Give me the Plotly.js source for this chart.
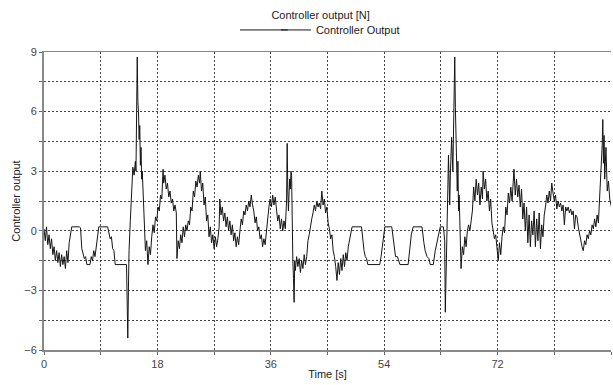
<!DOCTYPE html>
<html><head><meta charset="utf-8">
<script src="https://cdn.plot.ly/plotly-3.0.1.min.js"></script>
<style>html,body{margin:0;padding:0;background:#fff}#chart{width:613px;height:385px}</style>
</head><body><div id="chart"></div>
<script>
var chartTitle = "Controller output [N]";
var seriesName = "Controller Output";
var xTitle = "Time [s]";
var yTitle = "Controller output";

var time = [
0,0.2,0.4,0.6,0.8,1.0,1.2,1.4,1.6,1.8,2.0,2.2,2.4,2.6,2.8,3.0,3.2,3.4,3.6,3.8,4.0,4.2,4.4,5.6,5.8,
6.0,6.2,6.4,6.6,6.8,7.3,7.5,7.7,7.9,8.1,8.3,8.5,8.7,10.1,10.3,10.5,10.7,10.9,11.1,11.3,13.1,13.3,13.4,13.5,13.7,13.9,
14.1,14.3,14.5,14.6,14.8,14.9,15.0,15.1,15.2,15.3,15.4,15.5,15.6,15.7,15.9,16.0,16.1,16.3,16.5,16.7,16.9,17.1,17.3,17.5,17.7,17.9,
18.1,18.3,18.5,18.7,18.9,19.0,19.2,19.4,19.6,19.8,20.0,20.2,20.4,20.6,20.8,21.0,21.1,21.3,21.5,21.7,21.9,22.1,22.3,22.5,
22.7,22.9,23.1,23.3,23.5,23.7,23.9,24.1,24.3,24.5,24.7,24.8,25.0,25.2,25.4,25.6,25.8,26.0,26.2,26.4,26.6,26.8,27.0,27.2,27.4,27.6,27.8,27.9,
28.1,28.3,28.5,28.7,28.9,29.1,29.3,29.5,29.7,29.9,30.1,30.3,30.5,30.7,30.9,31.1,31.3,31.5,31.7,31.9,32.1,32.3,32.5,32.7,32.9,
33.1,33.3,33.5,33.7,33.9,34.1,34.3,34.5,34.7,34.9,35.1,35.3,35.5,35.7,35.9,36.1,36.3,36.5,36.7,36.9,37.1,37.3,37.5,37.7,37.9,
38.1,38.3,38.5,38.6,38.7,38.8,38.9,39.0,39.1,39.2,39.3,39.4,39.5,39.6,39.7,39.8,39.9,40.1,40.3,40.5,40.7,40.9,41.1,41.3,41.5,41.7,41.9,
42.1,42.3,42.5,42.7,42.9,43.1,43.3,43.5,43.7,43.9,44.1,44.3,44.5,44.7,44.9,45.1,45.3,45.5,45.7,45.9,46.1,46.3,46.5,46.7,46.9,
47.1,47.3,47.5,47.7,47.9,48.1,48.3,48.5,48.7,48.9,50.4,50.6,50.8,51.0,51.2,51.4,53.3,53.5,53.7,53.9,54.1,55.2,55.4,55.6,55.8,56.1,56.5,
57.8,58.0,58.3,58.6,60.0,60.3,60.5,60.8,61.1,61.3,61.8,62.1,62.4,62.7,62.9,63.4,63.6,63.7,63.8,63.9,64.1,64.2,64.3,64.4,64.5,64.7,64.9,
65.0,65.2,65.3,65.4,65.5,65.6,65.7,65.8,65.9,66.0,66.2,66.4,66.6,66.8,67.0,67.2,67.4,67.6,67.8,68.0,68.2,68.4,68.6,68.8,
69.0,69.2,69.4,69.6,69.7,69.9,70.1,70.3,70.5,70.7,70.9,71.1,71.3,71.5,71.7,71.9,72.1,72.3,72.5,72.7,72.9,
73.1,73.3,73.5,73.7,73.9,74.1,74.3,74.5,74.6,74.8,75.0,75.2,75.4,75.6,75.8,76.0,76.2,76.4,76.6,76.8,77.0,77.2,77.4,77.6,77.8,
78.0,78.2,78.4,78.6,78.8,79.0,79.2,79.4,79.6,79.8,80.0,80.2,80.4,80.6,80.8,81.0,81.2,81.4,81.6,81.8,82.0,82.2,82.4,82.6,82.8,
83.0,83.2,83.4,83.6,83.8,84.0,84.2,84.4,84.6,84.8,85.0,85.2,85.4,85.6,85.8,86.0,86.2,86.4,86.6,86.8,87.0,87.2,87.4,87.6,87.8,
88.0,88.2,88.4,88.6,88.7,88.8,88.9,89.0,89.2,89.4,89.6,89.8,90.0,90.2
];
var output = [
0.1,-0.5,0.2,-0.7,-0.2,-0.9,-0.4,-1.2,-0.8,-1.5,-1.0,-1.6,-1.1,-1.8,-1.2,-1.7,-1.3,-1.9,-1.0,-1.6,-0.6,-0.2,0.2,0.2,0.15,
-0.9,-1.1,-1.4,-1.3,-1.7,-1.7,-1.3,-1.5,-1.0,-1.3,-0.7,-0.3,0.2,0.2,-0.2,-0.4,-0.3,-0.9,-1.0,-1.7,-1.7,-5.4,-3.0,-1.0,0.5,2.0,
3.2,2.8,3.5,3.0,8.75,6.5,6.0,4.6,5.3,3.3,4.2,2.6,3.0,2.2,0.2,-0.4,-1.0,-0.5,-1.7,-0.8,-1.2,-0.3,0.3,-0.1,0.7,0.5,
1.2,1.0,1.8,1.6,3.1,2.4,2.8,2.1,2.4,1.7,2.0,1.4,1.6,1.0,1.3,0.9,-1.4,-0.5,-0.9,-0.2,-0.6,0.2,-0.3,0.3,
0.0,0.5,0.3,1.2,1.0,2.0,1.7,2.5,2.2,2.8,2.4,3.0,2.0,2.4,1.3,1.7,0.5,0.8,-0.3,0.2,-0.6,-0.2,-0.9,-0.3,-0.8,-0.4,0.2,1.6,
0.8,1.2,0.5,0.9,0.2,0.7,0.0,0.5,-0.2,0.3,-0.5,-0.1,-0.8,-0.3,-0.7,0.0,0.6,0.3,1.0,0.8,1.3,1.0,1.5,1.2,1.8,
1.3,1.0,0.4,0.7,0.0,0.2,-0.4,-0.2,-0.8,-0.4,-0.7,0.0,0.6,1.2,1.6,1.2,1.8,1.3,1.7,1.0,0.5,0.8,0.1,0.6,0.0,
0.5,0.1,1.5,4.4,2.0,1.0,1.9,2.6,2.1,3.0,2.8,-0.8,-1.5,-2.4,-3.6,-1.5,-2.0,-1.3,-1.8,-1.4,-2.1,-1.5,-1.9,-1.2,-1.7,-1.3,-0.5,
-0.2,0.3,0.6,0.9,1.3,1.0,1.5,1.2,1.4,1.1,2.0,1.3,1.6,0.9,1.2,0.4,0.1,-0.4,-0.2,-1.0,-1.3,-1.8,-2.5,-1.6,-2.2,
-1.4,-2.0,-1.2,-1.8,-1.1,-1.5,-0.8,-0.4,-0.1,0.2,0.2,-0.6,-1.0,-1.3,-1.4,-1.7,-1.7,-1.3,-0.8,-0.1,0.2,0.2,-0.3,-1.0,-1.3,-1.3,-1.7,
-1.7,-1.1,-0.2,0.2,0.2,-0.6,-1.0,-1.3,-1.4,-1.7,-1.7,-1.0,-0.5,-0.1,0.2,0.2,-0.5,-4.1,-2.0,0.0,2.1,3.8,2.5,1.3,2.8,4.7,3.0,
5.5,8.75,6.2,4.6,4.9,2.0,3.5,1.0,1.8,0.2,-1.9,-0.8,-1.2,-0.3,-0.8,0.0,0.3,0.0,0.5,1.0,2.2,1.5,2.6,1.8,
2.4,1.3,2.2,1.6,3.0,2.1,2.6,1.5,2.0,1.0,1.6,0.4,0.0,-0.4,-0.2,-0.9,-1.5,-0.6,-1.2,-0.3,0.2,
-0.1,1.2,0.8,1.9,1.4,2.2,1.5,2.7,3.1,1.8,2.6,1.7,2.3,1.2,2.1,0.6,1.4,0.0,1.2,-0.6,0.8,-0.8,0.5,-0.2,1.0,
-0.8,0.6,-0.5,0.9,-0.9,0.3,-0.3,0.8,1.2,1.8,1.4,2.0,1.5,2.4,1.9,1.5,1.8,1.1,1.5,1.2,1.4,1.0,1.3,0.3,1.2,
1.0,1.2,0.9,1.1,0.8,1.0,0.1,0.8,0.7,0.2,-0.2,-0.5,-0.8,-1.0,-0.5,-0.7,-0.2,-0.4,0.0,-0.2,0.3,0.1,0.6,0.2,0.8,
0.4,1.6,3.0,4.3,5.6,3.4,4.8,2.6,4.2,2.0,2.5,1.6,1.3,1.0
];

var trace = {
  x: time, y: output, type: "scatter", mode: "lines", name: seriesName,
  line: {color: "#151515", width: 1}
};

var fontFam = "Liberation Sans, Arial, sans-serif";
var gridDash = "2px,2px";
var gridCol = "#444";
var layout = {
  width: 613, height: 385,
  margin: {l: 44, r: 2, t: 52, b: 35},
  paper_bgcolor: "#fff", plot_bgcolor: "#fff",
  font: {family: fontFam, size: 11, color: "#333"},
  title: {text: chartTitle, x: 0.523, xanchor: "center", y: 0.961, yanchor: "middle", font: {size: 11, color: "#222"}},
  showlegend: true,
  legend: {orientation: "h", x: 0.409, xanchor: "left", y: 1.074, yanchor: "middle",
           font: {size: 11, color: "#222"}, bgcolor: "rgba(0,0,0,0)"},
  shapes: [{type: "line", xref: "paper", yref: "paper", x0: 0.3457, x1: 0.43, y0: 1.074, y1: 1.074,
            line: {color: "#151515", width: 1}}],
  xaxis: {
    range: [0, 90], tickmode: "linear", tick0: 0, dtick: 18,
    showgrid: true, gridcolor: gridCol, griddash: gridDash, gridwidth: 1,
    minor: {dtick: 9, showgrid: true, gridcolor: gridCol, griddash: gridDash, ticks: "outside", ticklen: 3, tickcolor: "#666"},
    zeroline: false, showline: true, linecolor: "#888", linewidth: 1.5, mirror: true,
    ticks: "outside", ticklen: 3, tickcolor: "#666",
    tickfont: {size: 11, color: "#444"},
    title: {text: xTitle, font: {size: 11, color: "#222"}, standoff: 1}
  },
  yaxis: {
    range: [-6, 9], tickmode: "linear", tick0: -6, dtick: 3,
    showgrid: true, gridcolor: gridCol, griddash: gridDash, gridwidth: 1,
    minor: {dtick: 1.5, showgrid: true, gridcolor: gridCol, griddash: gridDash, ticks: "outside", ticklen: 3, tickcolor: "#666"},
    zeroline: false, showline: true, linecolor: "#888", linewidth: 2,
    ticks: "outside", ticklen: 3, tickcolor: "#666",
    tickfont: {size: 11, color: "#444"},
    title: {text: yTitle, font: {size: 11, color: "#222"}, standoff: 1}
  }
};

Plotly.newPlot("chart", [trace], layout, {displayModeBar: false, staticPlot: true});
</script></body></html>
